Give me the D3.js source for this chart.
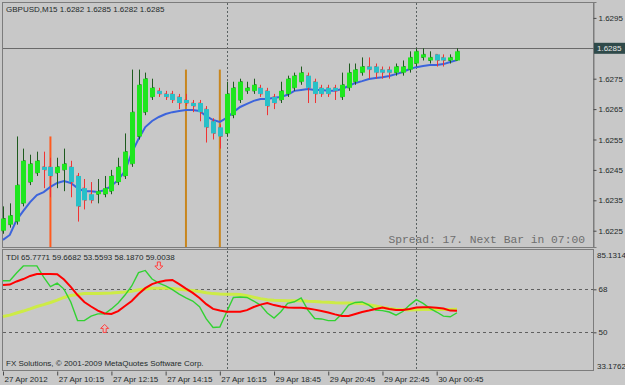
<!DOCTYPE html>
<html>
<head>
<meta charset="utf-8">
<script src="https://cdn.jsdelivr.net/npm/d3@7"></script>
<style>
body { margin: 0; background: #c8c8c8; }
svg { display: block; font-family: "Liberation Sans", Arial, sans-serif; }
</style>
</head>
<body>
<svg id="chart" width="625" height="385"></svg>
<script>
/*globals d3*/

// GBPUSD M15 bars (open / high / low / close)
var opens = [1.6225, 1.6227, 1.6228, 1.6234, 1.6241, 1.6244, 1.6246, 1.6246, 1.6244, 1.6245,
    1.6246, 1.6243, 1.6239, 1.6237, 1.6237, 1.6237, 1.6238, 1.6241, 1.6243, 1.6247,
    1.6256, 1.6264, 1.6269, 1.6271, 1.6270, 1.6270, 1.6269, 1.6268, 1.6267, 1.6267,
    1.6265, 1.6261, 1.6259, 1.6257, 1.6263, 1.6268, 1.6271, 1.6271, 1.6272, 1.6271,
    1.6269, 1.6268, 1.6270, 1.6272, 1.6274, 1.6276, 1.6274, 1.6272, 1.6272, 1.6272,
    1.6269, 1.6272, 1.6274, 1.6277, 1.6279, 1.6279, 1.6278, 1.6278, 1.6277, 1.6277,
    1.6278, 1.6280, 1.6282, 1.6281, 1.6283, 1.6282, 1.6281, 1.6281];
var highs = [1.6233, 1.6234, 1.6256, 1.6252, 1.6250, 1.6251, 1.6251, 1.6249, 1.6249, 1.6252,
    1.6248, 1.6244, 1.6242, 1.6241, 1.6242, 1.6243, 1.6245, 1.6249, 1.6257, 1.6278,
    1.6278, 1.6277, 1.6275, 1.6272, 1.6271, 1.6271, 1.6270, 1.6270, 1.6268, 1.6268,
    1.6266, 1.6262, 1.6260, 1.6274, 1.6274, 1.6275, 1.6274, 1.6275, 1.6273, 1.6272,
    1.6270, 1.6274, 1.6276, 1.6277, 1.6279, 1.6277, 1.6275, 1.6273, 1.6273, 1.6273,
    1.6277, 1.6280, 1.6280, 1.6282, 1.6282, 1.6280, 1.6279, 1.6279, 1.6280, 1.6281,
    1.6284, 1.6285, 1.6285, 1.6284, 1.6283, 1.6283, 1.6283, 1.6285];
var lows = [1.6224, 1.6226, 1.6227, 1.6233, 1.6240, 1.6243, 1.6239, 1.6236, 1.6239, 1.6238,
    1.6236, 1.6228, 1.6232, 1.6234, 1.6234, 1.6236, 1.6237, 1.6240, 1.6242, 1.6246,
    1.6255, 1.6263, 1.6268, 1.6269, 1.6268, 1.6267, 1.6265, 1.6266, 1.6264, 1.6261,
    1.6254, 1.6255, 1.6252, 1.6256, 1.6262, 1.6267, 1.6270, 1.6270, 1.6269, 1.6263,
    1.6265, 1.6267, 1.6269, 1.6271, 1.6273, 1.6267, 1.6267, 1.6269, 1.6269, 1.6268,
    1.6268, 1.6271, 1.6273, 1.6276, 1.6275, 1.6275, 1.6275, 1.6275, 1.6276, 1.6276,
    1.6277, 1.6279, 1.6281, 1.6280, 1.6279, 1.6279, 1.6280, 1.6281];
var closes = [1.6229, 1.6230, 1.6240, 1.6248, 1.6247, 1.6248, 1.6245, 1.6243, 1.6246, 1.6247,
    1.6241, 1.6233, 1.6235, 1.6235, 1.6238, 1.6239, 1.6243, 1.6246, 1.6251, 1.6264,
    1.6273, 1.6275, 1.6272, 1.6270, 1.6269, 1.6268, 1.6267, 1.6267, 1.6266, 1.6264,
    1.6259, 1.6257, 1.6256, 1.6270, 1.6272, 1.6274, 1.6272, 1.6273, 1.6270, 1.6266,
    1.6267, 1.6271, 1.6275, 1.6276, 1.6277, 1.6272, 1.6270, 1.6270, 1.6270, 1.6271,
    1.6273, 1.6277, 1.6278, 1.6279, 1.6278, 1.6277, 1.6277, 1.6277, 1.6279, 1.6279,
    1.6282, 1.6284, 1.6283, 1.6282, 1.6281, 1.6281, 1.6282, 1.6284];

// blue moving average
var maValues = [1.62220, 1.62236, 1.62285, 1.62315, 1.62344, 1.62367, 1.62377, 1.62394, 1.62407, 1.62413,
    1.62407, 1.62390, 1.62380, 1.62380, 1.62377, 1.62384, 1.62397, 1.62417, 1.62446, 1.62506,
    1.62552, 1.62591, 1.62611, 1.62624, 1.62634, 1.62640, 1.62644, 1.62647, 1.62647, 1.62644,
    1.62627, 1.62614, 1.62608, 1.62621, 1.62640, 1.62657, 1.62667, 1.62677, 1.62683, 1.62683,
    1.62687, 1.62690, 1.62697, 1.62710, 1.62713, 1.62716, 1.62713, 1.62713, 1.62710, 1.62710,
    1.62716, 1.62726, 1.62736, 1.62742, 1.62749, 1.62752, 1.62755, 1.62759, 1.62765, 1.62772,
    1.62782, 1.62788, 1.62792, 1.62795, 1.62795, 1.62798, 1.62805, 1.62811];

// TDI lines
var rsiLine = [71.6, 71.6, 74.8, 77.8, 77.8, 77.8, 73.1, 69.1, 70.6, 68.1,
    62.7, 54.9, 54.9, 56.8, 57.7, 57.7, 59.8, 62.3, 65.6, 69.4,
    75.0, 75.9, 72.3, 70.6, 69.4, 67.9, 66.0, 64.4, 63.1, 60.7,
    55.6, 52.0, 52.2, 58.5, 64.6, 64.8, 64.6, 63.1, 61.4, 58.1,
    56.0, 58.6, 62.1, 62.8, 64.4, 59.3, 55.8, 55.6, 54.9, 54.9,
    57.7, 61.4, 62.5, 62.7, 61.4, 59.3, 59.1, 58.5, 57.2, 58.7,
    61.4, 63.7, 62.1, 60.0, 58.5, 56.8, 56.5, 58.19];
var signalLine = [69.8, 70.0, 71.3, 72.3, 73.6, 74.4, 74.4, 74.4, 74.3, 72.1,
    69.0, 65.6, 62.7, 60.8, 59.1, 57.9, 57.7, 58.9, 61.0, 63.1,
    66.0, 68.5, 70.2, 71.1, 71.7, 71.9, 70.2, 68.3, 66.5, 64.4,
    61.8, 59.8, 59.1, 58.6, 58.6, 58.6, 59.3, 60.6, 61.6, 62.3,
    61.4, 60.8, 60.4, 60.3, 60.3, 60.0, 59.5, 58.9, 58.3, 57.5,
    56.8, 56.8, 57.7, 58.5, 59.1, 59.8, 60.4, 59.8, 59.3, 59.3,
    59.8, 60.4, 60.5, 60.5, 60.3, 60.0, 59.1, 59.00];
var baseLine = [56.6, 57.2, 58.1, 58.9, 59.8, 60.8, 61.6, 62.5, 63.5, 64.6,
    65.4, 65.8, 66.2, 66.3, 66.3, 66.4, 66.5, 66.7, 66.9, 67.2,
    67.8, 68.1, 68.4, 68.4, 68.4, 68.3, 68.0, 67.7, 67.5, 67.1,
    66.6, 66.2, 66.0, 65.9, 65.9, 65.8, 65.3, 64.7, 64.1, 63.6,
    63.4, 63.3, 63.2, 63.2, 63.2, 63.0, 62.9, 62.7, 62.6, 62.4,
    62.3, 62.3, 62.2, 62.1, 61.6, 61.0, 60.4, 60.0, 59.7, 59.5,
    59.3, 59.4, 59.5, 59.6, 59.6, 59.6, 59.6, 59.67];

// tick labels
var priceTicks = [1.6225, 1.6235, 1.6245, 1.6255, 1.6265, 1.6275, 1.6285, 1.6295];
var tdiLevels = [68, 50];
var tdiMax = 85.1314, tdiMin = 33.1762;
var timeTickBars = [0, 8, 16, 24, 32, 40, 48, 56, 64];
var timeLabels = ["27 Apr 2012", "27 Apr 10:15", "27 Apr 12:15", "27 Apr 14:15", "27 Apr 16:15",
    "29 Apr 18:45", "29 Apr 20:45", "29 Apr 22:45", "30 Apr 00:45"];

// other bits
var bid = 1.6285;
var separatorBars = [33, 61];
var markerBars = [7, 27, 32];
var markerTops = [1.6256, 1.6278, 1.6278];
var markerColors = ["#ff5a1e", "#c8861e", "#c8861e"];
var arrowBars = [15, 23];
var arrowDirs = ["up", "down"];
var arrowLevels = [53.3, 76.1];

var titleText = "GBPUSD,M15  1.6282 1.6285 1.6282 1.6285";
var tdiText = "TDI 65.7771 59.6682 53.5593 58.1870 59.0038";
var copyText = "FX Solutions, \u00a9 2001-2009 MetaQuotes Software Corp.";
var spreadText = "Spread: 17. Next Bar in 07:00";

var svg = d3.select("#chart");
var textCol = "#1e2a2a";

// panel edges
var L = 2, R = 593, mainTop = 2, mainBot = 247, indTop = 249, indBot = 370;

var x = d3.scaleLinear().domain([0, opens.length - 1]).range([3, 457]);
var y = d3.scaleLinear().domain([1.621964, 1.630023]).range([mainBot, mainTop]);
var yi = d3.scaleLinear().domain([tdiMin, tdiMax]).range([372.5, 248.4]);

svg.append("rect").attr("width", 625).attr("height", 385).attr("fill", "#c8c8c8");

// frames
svg.append("rect").attr("x", L + 0.5).attr("y", mainTop + 0.5).attr("width", R - L).attr("height", mainBot - mainTop)
    .attr("fill", "none").attr("stroke", "#7c7c7c");
svg.append("rect").attr("x", L + 0.5).attr("y", indTop + 0.5).attr("width", R - L).attr("height", indBot - indTop)
    .attr("fill", "none").attr("stroke", "#7c7c7c");

// price axis
var pAxis = d3.axisRight(y).tickValues(priceTicks).tickSize(3).tickPadding(2).tickFormat(d3.format(".4f"));
var pg = svg.append("g").attr("transform", "translate(" + (R + 0.5) + ",0)").call(pAxis);
styleAxis(pg);

// tdi axis
var iAxis = d3.axisRight(yi).tickValues(tdiLevels).tickSize(3).tickPadding(2).tickFormat(d3.format("d"));
var ig = svg.append("g").attr("transform", "translate(" + (R + 0.5) + ",0)").call(iAxis);
styleAxis(ig);
ig.select(".domain").remove();
svg.append("text").attr("x", 597).attr("y", 258).text(d3.format(".4f")(tdiMax))
    .attr("font-size", 8).attr("fill", textCol);
svg.append("text").attr("x", 597).attr("y", 369).text(d3.format(".4f")(tdiMin))
    .attr("font-size", 8).attr("fill", textCol);

// time axis
var tAxis = d3.axisBottom(x).tickValues(timeTickBars).tickSize(4).tickPadding(1)
    .tickFormat(function (d, i) { return timeLabels[i]; });
var tg = svg.append("g").attr("transform", "translate(0," + (indBot + 1.5) + ")").call(tAxis);
styleAxis(tg);
tg.select(".domain").remove();
tg.selectAll("text").attr("text-anchor", "start").attr("x", 1);

function styleAxis(g) {
    g.select(".domain").attr("stroke", "#7c7c7c");
    g.selectAll(".tick line").attr("stroke", "#4a4a4a");
    g.selectAll(".tick text").attr("font-size", 8).attr("fill", textCol)
        .attr("font-family", "Liberation Sans, Arial, sans-serif");
}

// dotted levels in tdi window
svg.selectAll(".lvl").data(tdiLevels).enter().append("line")
    .attr("x1", L + 1).attr("x2", R)
    .attr("y1", function (d) { return Math.round(yi(d)) + 0.5; })
    .attr("y2", function (d) { return Math.round(yi(d)) + 0.5; })
    .attr("stroke", "#606060").attr("stroke-dasharray", "3,3");

// period separators
svg.selectAll(".sep").data(separatorBars).enter().append("line")
    .attr("x1", function (d) { return Math.round(x(d)) + 0.5; })
    .attr("x2", function (d) { return Math.round(x(d)) + 0.5; })
    .attr("y1", mainTop + 1).attr("y2", indBot)
    .attr("stroke", "#5a6262").attr("stroke-dasharray", "2,2");

// bid line + label
svg.append("line").attr("x1", L + 1).attr("x2", R).attr("y1", Math.round(y(bid)) + 0.5).attr("y2", Math.round(y(bid)) + 0.5)
    .attr("stroke", "#6a6a6a");
svg.append("rect").attr("x", 594).attr("y", y(bid) - 5.5).attr("width", 31).attr("height", 11).attr("fill", "#2f4a4a");
svg.append("text").attr("x", 597).attr("y", y(bid) + 3).text(d3.format(".4f")(bid))
    .attr("font-size", 8).attr("fill", "#e8e8e8");

// vertical marker lines
for (var m = 0; m < markerBars.length; m++) {
    svg.append("line")
        .attr("x1", x(markerBars[m])).attr("x2", x(markerBars[m]))
        .attr("y1", y(markerTops[m])).attr("y2", mainBot)
        .attr("stroke", markerColors[m]).attr("stroke-width", 2);
}

// moving average
var maLine = d3.line().x(function (d, i) { return x(i); }).y(function (d) { return y(d); });
svg.append("path").attr("d", maLine(maValues)).attr("fill", "none")
    .attr("stroke", "#3c64dc").attr("stroke-width", 2);

// candles (note: "top" is taken by window, so bodyTop)
var cg = svg.append("g");
for (var i = 0; i < opens.length; i++) {
    var bull = closes[i] >= opens[i];
    var wickCol = bull ? "#1e5a1e" : "#f03232";
    var cx = Math.round(x(i)) + 0.5;
    cg.append("line").attr("x1", cx).attr("x2", cx).attr("y1", y(highs[i])).attr("y2", y(lows[i]))
        .attr("stroke", wickCol);
    cg.append("line").attr("x1", cx - 2).attr("x2", cx).attr("y1", y(opens[i])).attr("y2", y(opens[i]))
        .attr("stroke", wickCol);
    cg.append("line").attr("x1", cx).attr("x2", cx + 2).attr("y1", y(closes[i])).attr("y2", y(closes[i]))
        .attr("stroke", wickCol);
    var bodyTop = y(Math.max(opens[i], closes[i]));
    var bodyBot = y(Math.min(opens[i], closes[i]));
    cg.append("rect").attr("x", cx - 2.5).attr("width", 5)
        .attr("y", bodyTop).attr("height", Math.max(1.5, bodyBot - bodyTop))
        .attr("fill", bull ? "#1ee61e" : "#28c0c8");
}

// TDI
var tdiLine = d3.line().x(function (d, i) { return x(i); }).y(function (d) { return yi(d); });
svg.append("path").attr("d", tdiLine(baseLine)).attr("fill", "none")
    .attr("stroke", "#cdeb46").attr("stroke-width", 3);
svg.append("path").attr("d", tdiLine(rsiLine)).attr("fill", "none")
    .attr("stroke", "#32d232").attr("stroke-width", 1.4);
svg.append("path").attr("d", tdiLine(signalLine)).attr("fill", "none")
    .attr("stroke", "#ff0000").attr("stroke-width", 2);

// signal arrows
for (var a = 0; a < arrowBars.length; a++) {
    var ax = x(arrowBars[a]), ay = yi(arrowLevels[a]);
    var s = arrowDirs[a] === "up" ? -1 : 1;
    // tip at ay, shaft away from it
    var pts = [[ax, ay], [ax + 4, ay - s * 4], [ax + 1.5, ay - s * 4], [ax + 1.5, ay - s * 8],
        [ax - 1.5, ay - s * 8], [ax - 1.5, ay - s * 4], [ax - 4, ay - s * 4]];
    svg.append("path").attr("d", "M" + pts.join("L") + "Z")
        .attr("fill", "#d8c4c4").attr("stroke", "#ff4040").attr("stroke-width", 1);
}

// texts
svg.append("text").attr("x", 6).attr("y", 12).text(titleText).attr("font-size", 8).attr("fill", textCol);
svg.append("text").attr("x", 6).attr("y", 260).text(tdiText).attr("font-size", 8).attr("fill", textCol);
svg.append("text").attr("x", 6).attr("y", 366).text(copyText).attr("font-size", 8).attr("fill", textCol);
svg.append("text").attr("x", 585).attr("y", 243).attr("text-anchor", "end").text(spreadText)
    .attr("font-family", "Liberation Mono, monospace").attr("font-size", 11.3).attr("fill", "#6e6e6e");
</script>
</body>
</html>
